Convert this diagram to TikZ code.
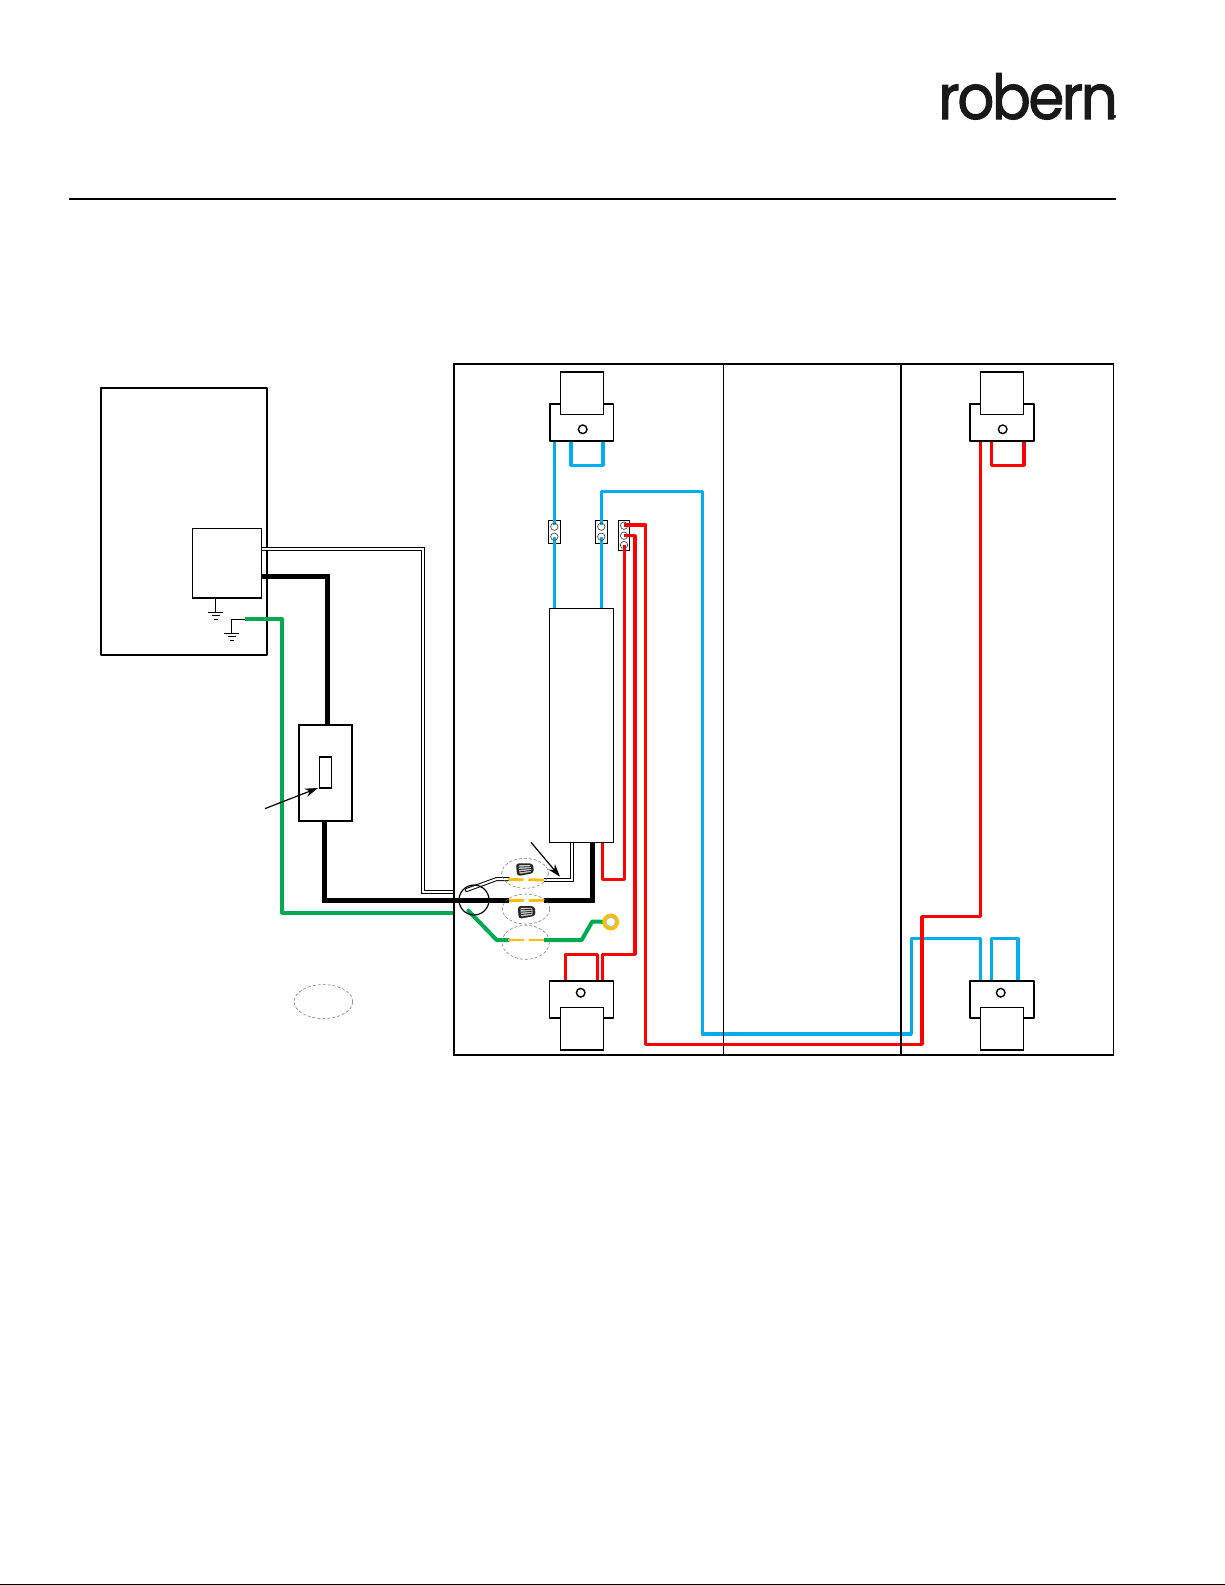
\documentclass[tikz,border=0pt]{standalone}
\usepackage{fontspec}
\usetikzlibrary{arrows.meta}
\newfontfamily\logofont[LetterSpace=-4.5,FakeBold=1.6]{Poppins}
\definecolor{wblue}{RGB}{0,174,239}
\definecolor{wred}{RGB}{255,0,0}
\definecolor{wgreen}{RGB}{0,170,80}
\definecolor{wyellow}{RGB}{255,188,10}
\tikzset{
  x=1pt,y=-1pt,
  boxa/.style={draw=black,fill=white,line width=1.9pt,inner sep=0pt,line join=round},
  boxm/.style={draw=black,fill=white,line width=2.1pt,inner sep=0pt,line join=round},
  boxb/.style={draw=black,fill=white,line width=1.5pt,inner sep=0pt},
  boxc/.style={draw=black,fill=white,line width=1.6pt,inner sep=0pt},
  termstrip/.style={draw=black,fill=white,line width=0.8pt,inner sep=0pt},
  termring/.style={draw=black!70,circle,line width=0.7pt,minimum size=7.4pt,inner sep=0pt},
  screwhole/.style={draw=black,fill=white,circle,line width=1.4pt,minimum size=8.6pt,inner sep=0pt},
  bluewire/.style={draw=wblue,line width=3.5pt,line join=round},
  redwire/.style={draw=wred,line width=3.5pt,line join=round},
  greenwire/.style={draw=wgreen,line width=4pt,line join=round},
  blackwire/.style={draw=black,line width=5pt,line join=miter},
  dblouter/.style={draw=black,line width=4pt,line join=miter},
  dblinner/.style={draw=white,line width=2pt,line join=miter},
  dashzone/.style={draw=black!50,dashed,dash pattern=on 3pt off 2pt,line width=0.6pt},
  capdash/.style={draw=wyellow,line width=2.8pt},
  gnd/.style={draw=black,line width=1pt},
  pointer/.style={draw=black,line width=1.2pt,-{Stealth[length=13pt,width=8.5pt]}},
  wirenut/.pic={
    \fill[black!85,rounded corners=3pt] (-8.5,-6.5) -- (8.5,-4.8) -- (8.5,4.8) -- (-8.5,6.5) -- cycle;
    \fill[black!20,rounded corners=1pt] (-6,-4.4) -- (6,-3.4) -- (6,3.4) -- (-6,4.4) -- cycle;
    \foreach \yy in {-2.4,0,2.4}{\draw[black!85,line width=0.8pt] (-6,\yy) -- (6,\yy*0.8);}
  }
}
\begin{document}
\begin{tikzpicture}
\useasboundingbox (0,0) rectangle (1225,1585);
\fill[white] (0,0) rectangle (1225,1585);
% header
\coordinate (ruleL) at (69,199); \coordinate (ruleR) at (1116,199);
\draw[line width=1.6pt] (ruleL) -- (ruleR);
\draw[line width=1.6pt] (0,1584.3) -- (1225,1584.3);
\node[anchor=base west,inner sep=0pt,font=\fontsize{62}{62}\logofont,text=black!90] (logo) at (938,119) {\scalebox{0.935}[1]{robern}};
\node[anchor=base west,inner sep=0pt,font=\fontsize{6}{6}\logofont,text=black!90] (logomark) at (1113,119.5) {®};
% named positions
\node[boxm,minimum width=166pt,minimum height=267pt] (mainbox) at (184,521.5) {};
\node[boxb,minimum width=69.4pt,minimum height=69.7pt] (jbox) at (227,563.2) {};
\node[boxc,minimum width=53pt,minimum height=96pt] (switch) at (325.5,773) {};
\node[boxc,minimum width=12pt,minimum height=31pt] (toggle) at (325.5,772.5) {};
% green ground + wires
\coordinate (gA) at (245,619); \coordinate (gB) at (454,912.7);
\draw[greenwire] (gA) -- (282.3,619) -- (282.3,912.7) -- (gB);
\coordinate (kA) at (261.7,576.3); \coordinate (kB) at (299,725);
\coordinate (kC) at (327,725); \coordinate (kD) at (324.5,821);
\draw[blackwire] (jbox.east |- kA) -- (327,576.3) -- (kC);
\coordinate (kE) at (509,900.5);
\draw[blackwire] (kD) -- (324.5,900.5) -- (kE);
% double wire
\coordinate (dA) at (261.7,549); \coordinate (dB) at (454,892);
\draw[dblouter] (dA) -- (422.5,549) -- (422.5,892) -- (dB);
\draw[dblinner] (dA) -- (422.5,549) -- (422.5,892) -- (dB);
% grounds
\coordinate (g1) at (215.7,598);
\draw[gnd] (g1) -- (215.7,612.3);
\draw[gnd] (208.3,612.3) -- (222.7,612.3) (211.5,615.5) -- (220,615.5) (213.5,619) -- (218,619);
\draw[gnd] (gA) -- (231.3,619) -- (231.3,633.3);
\draw[gnd] (224.3,633.3) -- (238.7,633.3) (227.5,636.7) -- (236,636.7) (229.5,640.3) -- (234,640.3);
% driver side wires
\coordinate (kF) at (544,900.5); \coordinate (drvB) at (592.7,842.7);
\draw[blackwire] (kF) -- (592.7,900.5) -- (drvB);
\coordinate (wA) at (466.7,890); \coordinate (wB) at (508.3,879);
\draw[dblouter,line cap=round,line join=round] (wA) -- (496.7,879) -- (wB);
\draw[dblinner,line cap=round,line join=round] (wA) -- (496.7,879) -- (wB);
\coordinate (wC) at (544,880); \coordinate (wD) at (571.7,842.7);
\draw[dblouter] (wC) -- (571.7,880) -- (wD);
\draw[dblinner] (wC) -- (571.7,880) -- (wD);
\coordinate (grA) at (468.3,910.7); \coordinate (grB) at (508.3,940);
\draw[greenwire,line cap=round] (grA) -- (496.7,940) -- (grB);
\coordinate (grC) at (544,940); \coordinate (ring) at (610.7,922);
\draw[greenwire] (grC) -- (581.7,940) -- (592.3,921.5) -- (ring);
% yellow dashed sections
\draw[capdash] (wB) ++(0,0.5) coordinate (c1) -- (523.5,879.7) (528.5,879.7) -- (wC);
\draw[capdash] (kE) -- (523.5,900.5) (528.5,900.5) -- (kF);
\draw[capdash] (grB) -- (523.5,940) (528.5,940) -- (grC);
% ring terminal
\node[circle,draw=wyellow,line width=3.8pt,fill=white,minimum size=13pt,inner sep=0pt] (ringT) at (ring) {};
\node[circle,draw=wblue!60,line width=0.5pt,minimum size=9.2pt,inner sep=0pt] (ringI) at (ring) {};
% circle around entry
\node[circle,draw=black,line width=1.2pt,minimum size=30pt,inner sep=0pt] (entry) at (474,900) {};
% dashed zones
\draw[dashzone] (525,873.3) ellipse [x radius=23.3,y radius=15];
\draw[dashzone] (526,909) ellipse [x radius=23.7,y radius=15];
\draw[dashzone] (525.7,942.3) ellipse [x radius=23.7,y radius=17];
\draw[dashzone] (323.4,1001.6) ellipse [x radius=29.3,y radius=17];
\pic[rotate=5] at (525,869) {wirenut};
\pic[rotate=5] at (526.7,911.7) {wirenut};
% blue wires
\coordinate (bT1) at (554.3,441); \coordinate (bD1) at (554.3,608.3);
\draw[bluewire] (571,441) -- (571,465.3) -- (603,465.3) -- (603,441);
\coordinate (bD2) at (601.3,608.3);
\coordinate (bF) at (980.3,980.7);
\node[termstrip,minimum width=12.4pt,minimum height=23pt] (t1) at (554.5,531.8) {};
\node[termstrip,minimum width=12.4pt,minimum height=23pt] (t2) at (601.5,531.8) {};
\node[termstrip,minimum width=11.4pt,minimum height=30pt] (t3) at (624,535.3) {};
\draw[bluewire] (bT1) -- (554.3,525);
\draw[bluewire] (bD1) -- (554.3,537);
\draw[bluewire] (601.3,525) -- (601.3,491.7) -- (702.5,491.7) -- (702.5,1034) -- (911.3,1034) -- (911.3,938.3) -- (bF |- 0,938.3) -- (bF);
\draw[bluewire] (bD2) -- (601.3,537);
\draw[bluewire] (991.3,980.7) -- (991.3,938.3) -- (1018,938.3) -- (1018,980.7);
% red wires
\coordinate (rT) at (980.3,441);
\draw[redwire] (624.3,525) -- (645.7,525) -- (645.7,1044.3) -- (922,1044.3) -- (922,916.7) -- (980.3,916.7) -- (rT);
\draw[redwire] (624.3,535.7) -- (635,535.7) -- (635,954.3) -- (602.3,954.3) -- (602.3,980.7);
\draw[redwire] (624.3,545) -- (624.3,879.3) -- (602.7,879.3) -- (602.7,842.7);
\draw[redwire] (565.7,980.7) -- (565.7,954.3) -- (597.7,954.3) -- (597.7,980.7);
\draw[redwire] (991.5,441) -- (991.5,465.3) -- (1024,465.3) -- (1024,441);
% terminal rings
\foreach \nm/\xx/\yy in {a/554.3/526.7,b/554.3/536.7,c/601.3/526.7,d/601.3/536.7,e/624/525.7,f/624/535.7,g/624/545}{
  \node[termring] (ring\nm) at (\xx,\yy) {};
}
% driver
\node[boxb,minimum width=64pt,minimum height=234.4pt] (driver) at (581.5,725.5) {};
% fixtures
\node[boxa,minimum width=63.6pt,minimum height=37.3pt] (fixTLb) at (581.7,422.3) {};
\node[boxc,minimum width=43pt,minimum height=42.6pt] (fixTLa) at (581.8,393) {};
\node[screwhole] (fixTLs) at (582.7,429.3) {};
\node[boxa,minimum width=64pt,minimum height=37.3pt] (fixBLb) at (581.5,999.3) {};
\node[boxc,minimum width=43pt,minimum height=42.3pt] (fixBLa) at (581.8,1028.8) {};
\node[screwhole] (fixBLs) at (580.7,992.7) {};
\node[boxa,minimum width=64pt,minimum height=37.3pt] (fixTRb) at (1002,422.3) {};
\node[boxc,minimum width=43pt,minimum height=42.6pt] (fixTRa) at (1001.8,393) {};
\node[screwhole] (fixTRs) at (1002.7,429.3) {};
\node[boxa,minimum width=64pt,minimum height=37.3pt] (fixBRb) at (1002,999.3) {};
\node[boxc,minimum width=43pt,minimum height=42.3pt] (fixBRa) at (1002,1028.8) {};
\node[screwhole] (fixBRs) at (1000.7,992.7) {};
% panel
\draw[line width=1.2pt] (454,364) -- (1113.5,364) -- (1113.5,1055) -- (454,1055) -- cycle;
\draw[line width=1pt] (723.7,364) -- (723.7,1055);
\draw[line width=1.6pt] (900.7,364) -- (900.7,1055);
% pointers
\coordinate (pA) at (265,808.6); \coordinate (pB) at (318,788);
\draw[pointer] (pA) -- (pB);
\coordinate (pC) at (531,842.3); \coordinate (pD) at (560,876.7);
\draw[pointer] (pC) -- (pD);
\end{tikzpicture}
\end{document}
